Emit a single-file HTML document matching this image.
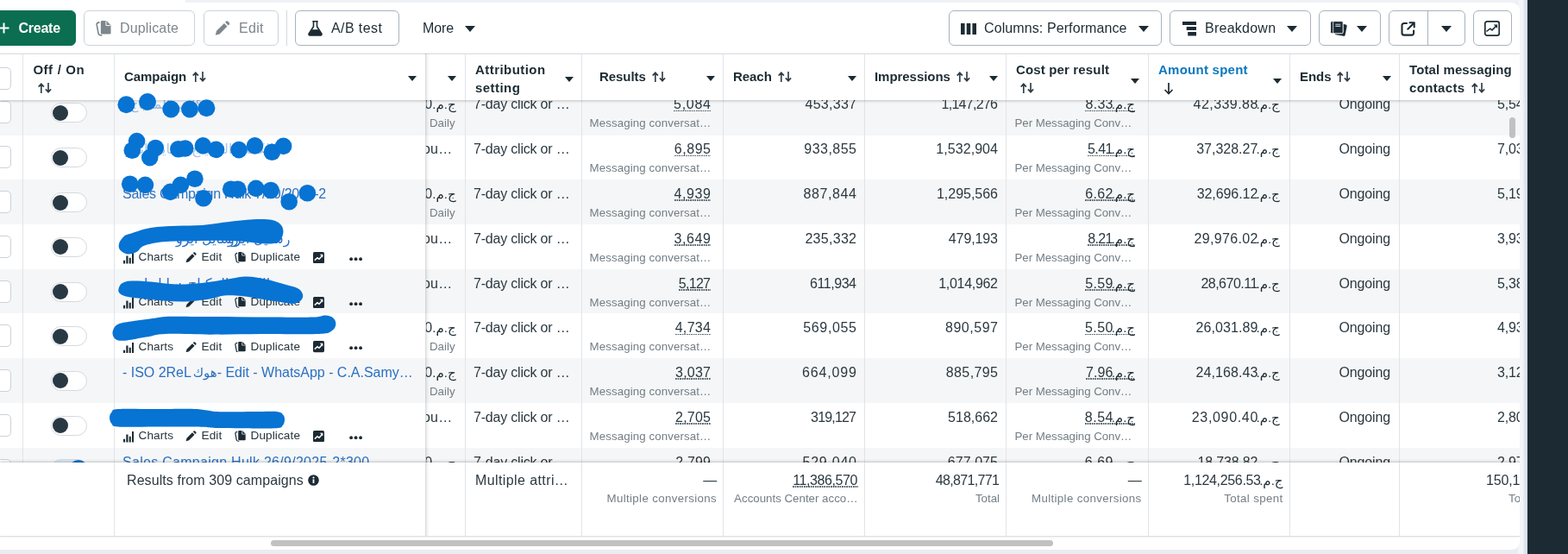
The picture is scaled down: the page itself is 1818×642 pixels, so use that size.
<!DOCTYPE html>
<html><head><meta charset="utf-8"><title>Ads Manager</title>
<style>
*{box-sizing:border-box}
html,body{margin:0;padding:0}
body{width:1818px;height:642px;overflow:hidden;position:relative;background:#e9edf2;font-family:"Liberation Sans",sans-serif;color:#1c2b33;font-size:16px}
.abs{position:absolute}
#dark{left:1771px;top:0;width:47px;height:642px;background:#1c2b33}
#band{left:1760px;top:0;width:11px;height:642px;background:linear-gradient(90deg,#f3f5f8 0,#f3f5f8 6.200px,#e9eef4 6.200px,#d0dbe6 11px)}
#panel{left:0;top:3px;width:1762px;height:634px;background:#fff;border-radius:0 9px 9px 0;overflow:hidden;will-change:transform}
#topstrip{left:215px;top:0;width:1547px;height:3px;background:#eef1f5}
.btn{position:absolute;top:9px;height:41px;border:1px solid #cbd2d9;border-radius:6px;background:#fff;white-space:nowrap}
.btn span{position:absolute;top:11px;font-size:16px;letter-spacing:-0.1px}
.btn svg{position:absolute}
.dis{color:#7d868c}
.on{border-color:#a9b3bb}
#create{left:-6px;width:94px;background:#0b6e51;border-color:#0b6e51;color:#fff}
#hdr{left:0;top:59px;width:1762px;height:53.5px;border-top:1px solid #d9dde1;background:#fff;z-index:5;box-shadow:0 1px 3px rgba(0,0,0,.22)}
.h{position:absolute;font-weight:700;font-size:15px;white-space:nowrap;letter-spacing:-0.05px}
.vl{position:absolute;width:1px;background:#e1e4e8}
.car{position:absolute;width:0;height:0;border-left:5.5px solid transparent;border-right:5.5px solid transparent;border-top:6px solid #1c2b33}
#rows{left:0;top:112.5px;width:1762px;height:420px;overflow:hidden}
.row{position:absolute;left:0;width:1762px;height:51.9px}
.g{background:#f5f6f7}
.t{position:absolute;white-space:nowrap;font-size:16px;letter-spacing:-0.15px;line-height:18px;color:#2b3840}
.r{text-align:right}
.s{position:absolute;white-space:nowrap;font-size:13.3px;color:#737e86;line-height:16px}
.dot{background:linear-gradient(90deg,#56636b 55%,rgba(0,0,0,0) 55%) 0 15.400px/2.600px 1.500px repeat-x}
.egp{display:inline-block;margin-left:1.500px;direction:rtl;unicode-bidi:isolate;font-size:15px;letter-spacing:0;white-space:nowrap;text-align:center;color:#1c2b33;font-family:"Liberation Sans","DejaVu Sans",sans-serif}
.tg{position:absolute;left:59px;width:42px;height:23px;border-radius:12px;background:#fff;border:1px solid #d4d9de}
.tg i{position:absolute;left:1px;top:1.5px;width:18px;height:18px;border-radius:50%;background:#283943}
.cb{position:absolute;left:-8px;width:21px;height:26px;border:1px solid #ccd2d8;border-radius:5px;background:#fff}
.lnk{color:#2a70c2}
.ar{direction:rtl;unicode-bidi:isolate;letter-spacing:0;font-family:"Liberation Sans","DejaVu Sans",sans-serif}
.act{position:absolute;left:142px;font-size:13.600px;letter-spacing:0.100px;white-space:nowrap;height:16px;color:#26343c}
.act span{position:absolute;top:-1px;line-height:16px}
.act svg{position:absolute}
#frozen{left:493px;top:59px;width:5px;height:560px;z-index:6;background:linear-gradient(90deg,rgba(0,0,0,.16),rgba(0,0,0,.05) 40%,rgba(0,0,0,0))}
#foot{left:0;top:532.5px;width:1762px;height:86px;background:#fff;z-index:4;box-shadow:0 -1px 3px rgba(0,0,0,.22)}
#footline{left:0;top:618px;width:1762px;height:1px;background:#dcdfe3;z-index:7}
#hs{left:314px;top:622.5px;width:907px;height:7px;border-radius:4px;background:#c1c1c1}
#vs{left:1749.500px;top:133px;width:7px;height:24px;border-radius:4px;background:#c1c1c1;z-index:8}
</style></head><body>
<div class="abs" style="left:0;top:0;width:215px;height:3px;background:#fff"></div>
<div class="abs" id="topstrip"></div>
<div class="abs" id="band"></div>
<div class="abs" id="dark"></div>
<div class="abs" id="panel">

<div class="btn" id="create"><svg style="left:3px;top:13px" width="13" height="13" viewBox="0 0 13 13"><path d="M6.500 0.500v12M0.500 6.500h12" stroke="#fff" stroke-width="2"/></svg><span style="left:26.500px;top:10.500px;font-weight:700;font-size:16px;letter-spacing:-0.250px">Create</span></div>
<div class="btn dis" style="left:97px;width:129px"><svg style="left:13px;top:11px" width="18.5" height="17.6" viewBox="0 0 19 18"><path fill="#7d868c" d="M7.500 0h5.200l5.300 5.300V14.500a1.500 1.500 0 0 1-1.500 1.500h-9a1.500 1.500 0 0 1-1.500-1.500V1.500A1.500 1.500 0 0 1 7.500 0z"/><path fill="none" stroke="#fff" stroke-width="1" d="M12.300 0.200V5.700H17.800"/><path fill="none" stroke="#7d868c" stroke-width="1.700" stroke-linecap="round" d="M4 1.900C2.200 2.400 1 2.900 1.200 4.500L3.200 15.300C3.500 16.900 4.500 17.200 6.800 17.300"/></svg><span style="left:41px;letter-spacing:0.150px">Duplicate</span></div>
<div class="btn dis" style="left:236px;width:87px"><svg style="left:12px;top:11px" width="17.5" height="17.5" viewBox="0 0 18 18"><path fill="#7d868c" d="M0.800 17.200l1.300-5L11.200 3.100l3.700 3.700-9.100 9.100zM12.400 1.900l1.100-1.100a1.500 1.500 0 0 1 2.100 0l1.600 1.600a1.500 1.500 0 0 1 0 2.100l-1.100 1.100z"/></svg><span style="left:40px;letter-spacing:0.300px">Edit</span></div>
<div class="abs" style="left:332px;top:9px;width:1px;height:41px;background:#d5dade"></div>
<div class="btn on" style="left:342px;width:121px"><svg style="left:14px;top:11px" width="17" height="18" viewBox="0 0 17 18"><path fill="none" stroke="#1c2b33" stroke-width="1.600" stroke-linejoin="round" d="M5.300 0.800h6.400M6.500 0.800v6L1.200 15a1.300 1.300 0 0 0 1.100 2h12.400a1.300 1.300 0 0 0 1.100-2L10.500 6.800v-6"/><path fill="#1c2b33" d="M4.800 10.200h7.400l3.500 5.300a1 1 0 0 1-.9 1.500H2.200a1 1 0 0 1-.9-1.500z"/></svg><span style="left:41px;letter-spacing:0.400px">A/B test</span></div>
<div class="abs" style="left:490px;top:21px;font-size:16px;letter-spacing:-0.100px">More</div><div class="car" style="left:539px;top:27px;border-left-width:6px;border-right-width:6px;border-top-width:7px"></div>
<div class="btn on" style="left:1100px;width:247px"><svg style="left:13px;top:14px" width="18" height="13" viewBox="0 0 18 13"><path fill="#1c2b33" d="M0 0h4.600v13H0zM6.700 0h4.600v13H6.700zM13.400 0H18v13h-4.600z"/></svg><span style="left:40px;letter-spacing:0.100px">Columns: Performance</span><div class="car" style="left:218.500px;top:17px;border-left-width:6px;border-right-width:6px;border-top-width:7px"></div></div>
<div class="btn on" style="left:1356px;width:164px"><svg style="left:14px;top:12px" width="16" height="16.500" viewBox="0 0 16 16.500"><path fill="#1c2b33" d="M0 0h16v4H0zM4.700 6h11.300v4H4.700zM6.200 12h9.800v4.500H6.200z"/></svg><span style="left:40px;letter-spacing:0.250px">Breakdown</span><div class="car" style="left:134.500px;top:17px;border-left-width:6px;border-right-width:6px;border-top-width:7px"></div></div>
<div class="btn on" style="left:1529px;width:72px"><svg style="left:11.500px;top:11px" width="20" height="18" viewBox="0 0 20 18"><g transform="rotate(11 12 10)"><rect x="6.500" y="3.400" width="12.300" height="13.600" rx="1.600" fill="#1c2b33"/></g><rect x="0.600" y="0.600" width="14.600" height="14.200" rx="1.600" fill="#1c2b33" stroke="#fff" stroke-width="1"/><path stroke="#fff" stroke-width="0.800" d="M3.700 1v13.400"/><path stroke="#c9ced2" stroke-width="1.100" d="M6.300 4.200h6M6.300 6.400h6"/></svg><div class="car" style="left:42.500px;top:17px;border-left-width:6px;border-right-width:6px;border-top-width:7px"></div></div>
<div class="btn on" style="left:1610px;width:88.500px"><div class="abs" style="left:43.500px;top:0;width:1px;height:39px;background:#a9b3bb"></div><svg style="left:12.500px;top:12.200px" width="17" height="17" viewBox="0 0 17 17"><path fill="none" stroke="#1c2b33" stroke-width="2.100" stroke-linejoin="round" stroke-linecap="round" d="M7 2H3.800A2.300 2.300 0 0 0 1.500 4.300v9A2.300 2.300 0 0 0 3.800 15.600h9a2.300 2.300 0 0 0 2.300-2.300V10.500M10.500 1.300h5.200v5.200M15.300 1.700L8.300 8.700"/></svg><div class="car" style="left:59.500px;top:17px;border-left-width:6px;border-right-width:6px;border-top-width:7px"></div></div>
<div class="btn on" style="left:1708px;width:45px"><svg style="left:10.500px;top:9.700px" width="20" height="20" viewBox="0 0 20 20"><rect x="1.800" y="1.800" width="16.400" height="16.400" rx="2.400" fill="none" stroke="#1c2b33" stroke-width="1.700"/><path fill="none" stroke="#1c2b33" stroke-width="1.500" d="M3.500 13.500l4.200-3.300 2.300 1.700 4.300-4.300"/><path fill="#1c2b33" d="M11.800 5.600h4.300v4.300z"/></svg></div>
<div class="abs" id="hdr">
<div class="cb" style="top:14.5px"></div>
<div class="h" style="left:38.5px;top:9px;letter-spacing:0.450px;word-spacing:0.500px">Off / On</div>
<div class="h" style="left:44px;top:30px;"><svg width="16" height="12" viewBox="0 0 16 12" style="vertical-align:-1px;margin-left:0"><path fill="none" stroke="#2f3d45" stroke-width="1.650" d="M3.800 12V1.400M0.700 4.600l3.100-3.300L6.900 4.600M12 0v10.600M8.900 7.400l3.100 3.300L15.100 7.400"/></svg></div>
<div class="h" style="left:144px;top:17px;">Campaign<svg width="16" height="12" viewBox="0 0 16 12" style="vertical-align:-1px;margin-left:7px"><path fill="none" stroke="#2f3d45" stroke-width="1.650" d="M3.800 12V1.400M0.700 4.600l3.100-3.300L6.900 4.600M12 0v10.600M8.900 7.400l3.100 3.300L15.100 7.400"/></svg></div>
<div class="h" style="left:551px;top:9px;letter-spacing:0.450px">Attribution</div>
<div class="h" style="left:551px;top:30px;letter-spacing:0.450px">setting</div>
<div class="h" style="left:695px;top:17px;">Results<svg width="16" height="12" viewBox="0 0 16 12" style="vertical-align:-1px;margin-left:7px"><path fill="none" stroke="#2f3d45" stroke-width="1.650" d="M3.800 12V1.400M0.700 4.600l3.100-3.300L6.900 4.600M12 0v10.600M8.900 7.400l3.100 3.300L15.100 7.400"/></svg></div>
<div class="h" style="left:850px;top:17px;">Reach<svg width="16" height="12" viewBox="0 0 16 12" style="vertical-align:-1px;margin-left:7px"><path fill="none" stroke="#2f3d45" stroke-width="1.650" d="M3.800 12V1.400M0.700 4.600l3.100-3.300L6.900 4.600M12 0v10.600M8.900 7.400l3.100 3.300L15.100 7.400"/></svg></div>
<div class="h" style="left:1014px;top:17px;">Impressions<svg width="16" height="12" viewBox="0 0 16 12" style="vertical-align:-1px;margin-left:7px"><path fill="none" stroke="#2f3d45" stroke-width="1.650" d="M3.800 12V1.400M0.700 4.600l3.100-3.300L6.900 4.600M12 0v10.600M8.900 7.400l3.100 3.300L15.100 7.400"/></svg></div>
<div class="h" style="left:1178px;top:9px;letter-spacing:0.150px">Cost per result</div>
<div class="h" style="left:1183px;top:30px;"><svg width="16" height="12" viewBox="0 0 16 12" style="vertical-align:-1px;margin-left:0"><path fill="none" stroke="#2f3d45" stroke-width="1.650" d="M3.800 12V1.400M0.700 4.600l3.100-3.300L6.900 4.600M12 0v10.600M8.900 7.400l3.100 3.300L15.100 7.400"/></svg></div>
<div class="h" style="left:1343px;top:9px;color:#0a78be;letter-spacing:0.250px">Amount spent</div>
<svg class="abs" style="left:1349px;top:33px" width="12" height="14" viewBox="0 0 12 14"><path fill="none" stroke="#1c2b33" stroke-width="1.700" d="M6 0v12M1.500 8l4.500 4.500L10.500 8"/></svg>
<div class="h" style="left:1507px;top:17px;">Ends<svg width="16" height="12" viewBox="0 0 16 12" style="vertical-align:-1px;margin-left:7px"><path fill="none" stroke="#2f3d45" stroke-width="1.650" d="M3.800 12V1.400M0.700 4.600l3.100-3.300L6.900 4.600M12 0v10.600M8.900 7.400l3.100 3.300L15.100 7.400"/></svg></div>
<div class="h" style="left:1634px;top:9px;letter-spacing:0.100px">Total messaging</div>
<div class="h" style="left:1634px;top:30px;"><span style="letter-spacing:0.350px">contacts</span><svg width="16" height="12" viewBox="0 0 16 12" style="vertical-align:-1px;margin-left:7px"><path fill="none" stroke="#2f3d45" stroke-width="1.650" d="M3.800 12V1.400M0.700 4.600l3.100-3.300L6.900 4.600M12 0v10.600M8.900 7.400l3.100 3.300L15.100 7.400"/></svg></div>
<div class="car" style="left:472.5px;top:25px"></div>
<div class="car" style="left:518.5px;top:25px"></div>
<div class="car" style="left:654.5px;top:26px"></div>
<div class="car" style="left:818.5px;top:25px"></div>
<div class="car" style="left:982.5px;top:25px"></div>
<div class="car" style="left:1146.5px;top:25px"></div>
<div class="car" style="left:1310.5px;top:28px"></div>
<div class="car" style="left:1475.5px;top:28px"></div>
<div class="car" style="left:1602.5px;top:25px"></div>
<div class="vl" style="left:26.0px;top:0;height:53px"></div>
<div class="vl" style="left:132.0px;top:0;height:53px"></div>
<div class="vl" style="left:538.5px;top:0;height:53px"></div>
<div class="vl" style="left:674.0px;top:0;height:53px"></div>
<div class="vl" style="left:838.0px;top:0;height:53px"></div>
<div class="vl" style="left:1002.0px;top:0;height:53px"></div>
<div class="vl" style="left:1166.0px;top:0;height:53px"></div>
<div class="vl" style="left:1330.5px;top:0;height:53px"></div>
<div class="vl" style="left:1494.5px;top:0;height:53px"></div>
<div class="vl" style="left:1622.0px;top:0;height:53px"></div>
</div>
<div class="abs" id="rows">
<div class="row g" style="top:-11.2px;height:52.2px">
<div class="vl" style="left:26.0px;top:0;height:52px"></div>
<div class="vl" style="left:132.0px;top:0;height:52px"></div>
<div class="vl" style="left:538.5px;top:0;height:52px"></div>
<div class="vl" style="left:674.0px;top:0;height:52px"></div>
<div class="vl" style="left:838.0px;top:0;height:52px"></div>
<div class="vl" style="left:1002.0px;top:0;height:52px"></div>
<div class="vl" style="left:1166.0px;top:0;height:52px"></div>
<div class="vl" style="left:1330.5px;top:0;height:52px"></div>
<div class="vl" style="left:1494.5px;top:0;height:52px"></div>
<div class="vl" style="left:1622.0px;top:0;height:52px"></div>
<div class="cb" style="top:13px"></div>
<div class="tg" style="top:15px"><i></i></div>
<div style="opacity:.45"><div class="t lnk ar" style="left:150px;top:8px">الكاتب المكياج</div></div>
<div class="abs" style="left:493.500px;top:0;width:45px;height:52px;overflow:hidden"><div class="t" style="left:-1.200px;top:8px">0<span style="margin-left:0.600px"><span class="egp" style="width:25.5px">ج.م.</span></span></div><div class="s" style="left:4.500px;top:31px">Daily</div></div>
<div class="t" style="left:549px;top:8px;letter-spacing:-0.2px">7-day click or …</div>
<div class="t r" style="right:938px;top:8px"><span class="dot"><span style="letter-spacing:0.71px;margin-right:-0.71px">5,084</span></span></div><div class="s" style="left:683.5px;top:31px;letter-spacing:0.1px">Messaging conversat…</div>
<div class="t r" style="right:769px;top:8px"><span style="letter-spacing:0.28px;margin-right:-0.28px">453,337</span></div>
<div class="t r" style="right:605px;top:8px"><span style="letter-spacing:-0.71px;margin-right:0.71px">1,147,276</span></div>
<div class="t r" style="right:446px;top:8px"><span class="dot"><span style="letter-spacing:0.29px;margin-right:-0.29px">8.33</span><span class="egp" style="width:24px">ج.م.</span></span></div><div class="s" style="left:1176.5px;top:31px;letter-spacing:-0.05px">Per Messaging Conv…</div>
<div class="t r" style="right:278.20000000000005px;top:8px"><span style="letter-spacing:0.44px;margin-right:-0.44px">42,339.88</span><span class="egp" style="width:24px">ج.م.</span></div>
<div class="t r" style="right:150px;top:8px">Ongoing</div>
<div class="t" style="left:1736px;top:8px">5,54</div>
</div>
<div class="row" style="top:40.7px;height:52.1px">
<div class="vl" style="left:26.0px;top:0;height:52px"></div>
<div class="vl" style="left:132.0px;top:0;height:52px"></div>
<div class="vl" style="left:538.5px;top:0;height:52px"></div>
<div class="vl" style="left:674.0px;top:0;height:52px"></div>
<div class="vl" style="left:838.0px;top:0;height:52px"></div>
<div class="vl" style="left:1002.0px;top:0;height:52px"></div>
<div class="vl" style="left:1166.0px;top:0;height:52px"></div>
<div class="vl" style="left:1330.5px;top:0;height:52px"></div>
<div class="vl" style="left:1494.5px;top:0;height:52px"></div>
<div class="vl" style="left:1622.0px;top:0;height:52px"></div>
<div class="cb" style="top:13px"></div>
<div class="tg" style="top:15px"><i></i></div>
<div style="opacity:.4"><div class="t lnk ar" style="left:146px;top:8px">رسايل ايرو</div><div class="t lnk ar" style="left:222px;top:8px">الكاتب المكياج</div></div>
<div class="abs" style="left:493.500px;top:0;width:45px;height:52px;overflow:hidden"><div class="t" style="left:-3.500px;top:8px;letter-spacing:0.200px">ou…</div></div>
<div class="t" style="left:549px;top:8px;letter-spacing:-0.2px">7-day click or …</div>
<div class="t r" style="right:938px;top:8px"><span class="dot"><span style="letter-spacing:0.55px;margin-right:-0.55px">6,895</span></span></div><div class="s" style="left:683.5px;top:31px;letter-spacing:0.1px">Messaging conversat…</div>
<div class="t r" style="right:769px;top:8px"><span style="letter-spacing:0.48px;margin-right:-0.48px">933,855</span></div>
<div class="t r" style="right:605px;top:8px"><span style="letter-spacing:0.06px;margin-right:-0.06px">1,532,904</span></div>
<div class="t r" style="right:446px;top:8px"><span class="dot"><span style="letter-spacing:-0.51px;margin-right:0.51px">5.41</span><span class="egp" style="width:24px">ج.م.</span></span></div><div class="s" style="left:1176.5px;top:31px;letter-spacing:-0.05px">Per Messaging Conv…</div>
<div class="t r" style="right:278.20000000000005px;top:8px"><span style="letter-spacing:-0.01px;margin-right:0.01px">37,328.27</span><span class="egp" style="width:24px">ج.م.</span></div>
<div class="t r" style="right:150px;top:8px">Ongoing</div>
<div class="t" style="left:1736px;top:8px">7,03</div>
</div>
<div class="row g" style="top:92.5px;height:52.2px">
<div class="vl" style="left:26.0px;top:0;height:52px"></div>
<div class="vl" style="left:132.0px;top:0;height:52px"></div>
<div class="vl" style="left:538.5px;top:0;height:52px"></div>
<div class="vl" style="left:674.0px;top:0;height:52px"></div>
<div class="vl" style="left:838.0px;top:0;height:52px"></div>
<div class="vl" style="left:1002.0px;top:0;height:52px"></div>
<div class="vl" style="left:1166.0px;top:0;height:52px"></div>
<div class="vl" style="left:1330.5px;top:0;height:52px"></div>
<div class="vl" style="left:1494.5px;top:0;height:52px"></div>
<div class="vl" style="left:1622.0px;top:0;height:52px"></div>
<div class="cb" style="top:13px"></div>
<div class="tg" style="top:15px"><i></i></div>
<div class="t lnk" style="left:142px;top:8px;letter-spacing:-0.25px">Sales Campaign Hulk 7/10/2025-2</div>
<div class="abs" style="left:493.500px;top:0;width:45px;height:52px;overflow:hidden"><div class="t" style="left:-1.200px;top:8px">0<span style="margin-left:0.600px"><span class="egp" style="width:25.5px">ج.م.</span></span></div><div class="s" style="left:4.500px;top:31px">Daily</div></div>
<div class="t" style="left:549px;top:8px;letter-spacing:-0.2px">7-day click or …</div>
<div class="t r" style="right:938px;top:8px"><span class="dot"><span style="letter-spacing:0.59px;margin-right:-0.59px">4,939</span></span></div><div class="s" style="left:683.5px;top:31px;letter-spacing:0.1px">Messaging conversat…</div>
<div class="t r" style="right:769px;top:8px"><span style="letter-spacing:0.59px;margin-right:-0.59px">887,844</span></div>
<div class="t r" style="right:605px;top:8px"><span style="letter-spacing:-0.02px;margin-right:0.02px">1,295,566</span></div>
<div class="t r" style="right:446px;top:8px"><span class="dot"><span style="letter-spacing:0.39px;margin-right:-0.39px">6.62</span><span class="egp" style="width:24px">ج.م.</span></span></div><div class="s" style="left:1176.5px;top:31px;letter-spacing:-0.05px">Per Messaging Conv…</div>
<div class="t r" style="right:278.20000000000005px;top:8px"><span style="letter-spacing:-0.06px;margin-right:0.06px">32,696.12</span><span class="egp" style="width:24px">ج.م.</span></div>
<div class="t r" style="right:150px;top:8px">Ongoing</div>
<div class="t" style="left:1736px;top:8px">5,19</div>
</div>
<div class="row" style="top:144.4px;height:52.2px">
<div class="vl" style="left:26.0px;top:0;height:52px"></div>
<div class="vl" style="left:132.0px;top:0;height:52px"></div>
<div class="vl" style="left:538.5px;top:0;height:52px"></div>
<div class="vl" style="left:674.0px;top:0;height:52px"></div>
<div class="vl" style="left:838.0px;top:0;height:52px"></div>
<div class="vl" style="left:1002.0px;top:0;height:52px"></div>
<div class="vl" style="left:1166.0px;top:0;height:52px"></div>
<div class="vl" style="left:1330.5px;top:0;height:52px"></div>
<div class="vl" style="left:1494.5px;top:0;height:52px"></div>
<div class="vl" style="left:1622.0px;top:0;height:52px"></div>
<div class="cb" style="top:13px"></div>
<div class="tg" style="top:15px"><i></i></div>
<div class="t lnk ar" style="left:204px;top:8px">رسايل ايرو</div><div class="t lnk ar" style="left:264px;top:8px">رسايل ايرو</div>
<div class="act" style="top:31.600px"><svg style="left:0.900px;top:0.800px" width="12.200" height="13.500" viewBox="0 0 12.200 13.500"><path fill="#1c2b33" d="M0 9.800h2.100v3.700H0zM3.300 4.500h2.200v9H3.300zM6.700 6.800h2.100v6.700H6.700zM10 0.900h2.200v12.600H10z"/></svg><span style="left:18.500px">Charts</span><svg style="left:73px;top:0.800px" width="12.8" height="12.8" viewBox="0 0 18 18"><path fill="#1c2b33" d="M0.800 17.200l1.300-5L11.200 3.100l3.700 3.700-9.100 9.100zM12.400 1.900l1.100-1.100a1.500 1.500 0 0 1 2.100 0l1.600 1.600a1.500 1.500 0 0 1 0 2.100l-1.100 1.100z"/></svg><span style="left:91.500px">Edit</span><svg style="left:130px;top:0.800px" width="13.4" height="12.8" viewBox="0 0 19 18"><path fill="#1c2b33" d="M7.500 0h5.200l5.300 5.300V14.500a1.500 1.500 0 0 1-1.500 1.500h-9a1.500 1.500 0 0 1-1.500-1.500V1.500A1.500 1.500 0 0 1 7.500 0z"/><path fill="none" stroke="#fff" stroke-width="1" d="M12.300 0.200V5.700H17.800"/><path fill="none" stroke="#1c2b33" stroke-width="1.700" stroke-linecap="round" d="M4 1.900C2.200 2.400 1 2.900 1.200 4.500L3.200 15.300C3.500 16.900 4.500 17.200 6.800 17.300"/></svg><span style="left:148.500px">Duplicate</span><svg style="left:221px;top:0.600px" width="13" height="13.200" viewBox="0 0 13 13.200"><rect width="13" height="13.200" rx="1.600" fill="#1c2b33"/><path fill="none" stroke="#fff" stroke-width="1.500" d="M1.800 9.600l3.200-2.800 2 1.500L10.500 4.500"/><path fill="#fff" d="M7.800 2.800h3.600v3.600z"/></svg><svg style="left:262.500px;top:6.200px" width="15.200" height="4.400" viewBox="0 0 15.200 4.400"><circle cx="2.100" cy="2.200" r="1.900" fill="#1c2b33"/><circle cx="7.600" cy="2.200" r="1.900" fill="#1c2b33"/><circle cx="13.100" cy="2.200" r="1.900" fill="#1c2b33"/></svg></div>
<div class="abs" style="left:493.500px;top:0;width:45px;height:52px;overflow:hidden"><div class="t" style="left:-3.500px;top:8px;letter-spacing:0.200px">ou…</div></div>
<div class="t" style="left:549px;top:8px;letter-spacing:-0.2px">7-day click or …</div>
<div class="t r" style="right:938px;top:8px"><span class="dot"><span style="letter-spacing:0.59px;margin-right:-0.59px">3,649</span></span></div><div class="s" style="left:683.5px;top:31px;letter-spacing:0.1px">Messaging conversat…</div>
<div class="t r" style="right:769px;top:8px"><span style="letter-spacing:0.29px;margin-right:-0.29px">235,332</span></div>
<div class="t r" style="right:605px;top:8px"><span style="letter-spacing:-0.11px;margin-right:0.11px">479,193</span></div>
<div class="t r" style="right:446px;top:8px"><span class="dot"><span style="letter-spacing:-0.64px;margin-right:0.64px">8.21</span><span class="egp" style="width:24px">ج.م.</span></span></div><div class="s" style="left:1176.5px;top:31px;letter-spacing:-0.05px">Per Messaging Conv…</div>
<div class="t r" style="right:278.20000000000005px;top:8px"><span style="letter-spacing:0.33px;margin-right:-0.33px">29,976.02</span><span class="egp" style="width:24px">ج.م.</span></div>
<div class="t r" style="right:150px;top:8px">Ongoing</div>
<div class="t" style="left:1736px;top:8px">3,93</div>
</div>
<div class="row g" style="top:196.3px;height:51.7px">
<div class="vl" style="left:26.0px;top:0;height:52px"></div>
<div class="vl" style="left:132.0px;top:0;height:52px"></div>
<div class="vl" style="left:538.5px;top:0;height:52px"></div>
<div class="vl" style="left:674.0px;top:0;height:52px"></div>
<div class="vl" style="left:838.0px;top:0;height:52px"></div>
<div class="vl" style="left:1002.0px;top:0;height:52px"></div>
<div class="vl" style="left:1166.0px;top:0;height:52px"></div>
<div class="vl" style="left:1330.5px;top:0;height:52px"></div>
<div class="vl" style="left:1494.5px;top:0;height:52px"></div>
<div class="vl" style="left:1622.0px;top:0;height:52px"></div>
<div class="cb" style="top:13px"></div>
<div class="tg" style="top:15px"><i></i></div>
<div class="t lnk ar" style="left:146px;top:8px">رسايل ايرو</div><div class="t lnk ar" style="left:218px;top:8px">الكاتب المكياج</div>
<div class="act" style="top:31.600px"><svg style="left:0.900px;top:0.800px" width="12.200" height="13.500" viewBox="0 0 12.200 13.500"><path fill="#1c2b33" d="M0 9.800h2.100v3.700H0zM3.300 4.500h2.200v9H3.300zM6.700 6.800h2.100v6.700H6.700zM10 0.900h2.200v12.600H10z"/></svg><span style="left:18.500px">Charts</span><svg style="left:73px;top:0.800px" width="12.8" height="12.8" viewBox="0 0 18 18"><path fill="#1c2b33" d="M0.800 17.200l1.300-5L11.200 3.100l3.700 3.700-9.100 9.100zM12.400 1.900l1.100-1.100a1.500 1.500 0 0 1 2.100 0l1.600 1.600a1.500 1.500 0 0 1 0 2.100l-1.100 1.100z"/></svg><span style="left:91.500px">Edit</span><svg style="left:130px;top:0.800px" width="13.4" height="12.8" viewBox="0 0 19 18"><path fill="#1c2b33" d="M7.500 0h5.200l5.300 5.300V14.500a1.500 1.500 0 0 1-1.500 1.500h-9a1.500 1.500 0 0 1-1.500-1.500V1.500A1.500 1.500 0 0 1 7.500 0z"/><path fill="none" stroke="#fff" stroke-width="1" d="M12.300 0.200V5.700H17.800"/><path fill="none" stroke="#1c2b33" stroke-width="1.700" stroke-linecap="round" d="M4 1.900C2.200 2.400 1 2.900 1.200 4.500L3.200 15.300C3.500 16.900 4.500 17.200 6.800 17.300"/></svg><span style="left:148.500px">Duplicate</span><svg style="left:221px;top:0.600px" width="13" height="13.200" viewBox="0 0 13 13.200"><rect width="13" height="13.200" rx="1.600" fill="#1c2b33"/><path fill="none" stroke="#fff" stroke-width="1.500" d="M1.800 9.600l3.200-2.800 2 1.500L10.500 4.500"/><path fill="#fff" d="M7.800 2.800h3.600v3.600z"/></svg><svg style="left:262.500px;top:6.200px" width="15.200" height="4.400" viewBox="0 0 15.200 4.400"><circle cx="2.100" cy="2.200" r="1.900" fill="#1c2b33"/><circle cx="7.600" cy="2.200" r="1.900" fill="#1c2b33"/><circle cx="13.100" cy="2.200" r="1.900" fill="#1c2b33"/></svg></div>
<div class="abs" style="left:493.500px;top:0;width:45px;height:52px;overflow:hidden"><div class="t" style="left:-3.500px;top:8px;letter-spacing:0.200px">ou…</div></div>
<div class="t" style="left:549px;top:8px;letter-spacing:-0.2px">7-day click or …</div>
<div class="t r" style="right:938px;top:8px"><span class="dot"><span style="letter-spacing:-0.71px;margin-right:0.71px">5,127</span></span></div><div class="s" style="left:683.5px;top:31px;letter-spacing:0.1px">Messaging conversat…</div>
<div class="t r" style="right:769px;top:8px"><span style="letter-spacing:-0.46px;margin-right:0.46px">611,934</span></div>
<div class="t r" style="right:605px;top:8px"><span style="letter-spacing:-0.30px;margin-right:0.30px">1,014,962</span></div>
<div class="t r" style="right:446px;top:8px"><span class="dot"><span style="letter-spacing:0.34px;margin-right:-0.34px">5.59</span><span class="egp" style="width:24px">ج.م.</span></span></div><div class="s" style="left:1176.5px;top:31px;letter-spacing:-0.05px">Per Messaging Conv…</div>
<div class="t r" style="right:278.20000000000005px;top:8px"><span style="letter-spacing:-0.51px;margin-right:0.51px">28,670.11</span><span class="egp" style="width:24px">ج.م.</span></div>
<div class="t r" style="right:150px;top:8px">Ongoing</div>
<div class="t" style="left:1736px;top:8px">5,38</div>
</div>
<div class="row" style="top:247.7px;height:52.0px">
<div class="vl" style="left:26.0px;top:0;height:52px"></div>
<div class="vl" style="left:132.0px;top:0;height:52px"></div>
<div class="vl" style="left:538.5px;top:0;height:52px"></div>
<div class="vl" style="left:674.0px;top:0;height:52px"></div>
<div class="vl" style="left:838.0px;top:0;height:52px"></div>
<div class="vl" style="left:1002.0px;top:0;height:52px"></div>
<div class="vl" style="left:1166.0px;top:0;height:52px"></div>
<div class="vl" style="left:1330.5px;top:0;height:52px"></div>
<div class="vl" style="left:1494.5px;top:0;height:52px"></div>
<div class="vl" style="left:1622.0px;top:0;height:52px"></div>
<div class="cb" style="top:13px"></div>
<div class="tg" style="top:15px"><i></i></div>
<div class="act" style="top:31.600px"><svg style="left:0.900px;top:0.800px" width="12.200" height="13.500" viewBox="0 0 12.200 13.500"><path fill="#1c2b33" d="M0 9.800h2.100v3.700H0zM3.300 4.500h2.200v9H3.300zM6.700 6.800h2.100v6.700H6.700zM10 0.900h2.200v12.600H10z"/></svg><span style="left:18.500px">Charts</span><svg style="left:73px;top:0.800px" width="12.8" height="12.8" viewBox="0 0 18 18"><path fill="#1c2b33" d="M0.800 17.200l1.300-5L11.200 3.100l3.700 3.700-9.100 9.100zM12.400 1.900l1.100-1.100a1.500 1.500 0 0 1 2.100 0l1.600 1.600a1.500 1.500 0 0 1 0 2.100l-1.100 1.100z"/></svg><span style="left:91.500px">Edit</span><svg style="left:130px;top:0.800px" width="13.4" height="12.8" viewBox="0 0 19 18"><path fill="#1c2b33" d="M7.500 0h5.200l5.300 5.300V14.500a1.500 1.500 0 0 1-1.500 1.500h-9a1.500 1.500 0 0 1-1.500-1.500V1.500A1.500 1.500 0 0 1 7.500 0z"/><path fill="none" stroke="#fff" stroke-width="1" d="M12.300 0.200V5.700H17.800"/><path fill="none" stroke="#1c2b33" stroke-width="1.700" stroke-linecap="round" d="M4 1.900C2.200 2.400 1 2.900 1.200 4.500L3.200 15.300C3.500 16.900 4.500 17.200 6.800 17.300"/></svg><span style="left:148.500px">Duplicate</span><svg style="left:221px;top:0.600px" width="13" height="13.200" viewBox="0 0 13 13.200"><rect width="13" height="13.200" rx="1.600" fill="#1c2b33"/><path fill="none" stroke="#fff" stroke-width="1.500" d="M1.800 9.600l3.200-2.800 2 1.500L10.500 4.500"/><path fill="#fff" d="M7.800 2.800h3.600v3.600z"/></svg><svg style="left:262.500px;top:6.200px" width="15.200" height="4.400" viewBox="0 0 15.200 4.400"><circle cx="2.100" cy="2.200" r="1.900" fill="#1c2b33"/><circle cx="7.600" cy="2.200" r="1.900" fill="#1c2b33"/><circle cx="13.100" cy="2.200" r="1.900" fill="#1c2b33"/></svg></div>
<div class="abs" style="left:493.500px;top:0;width:45px;height:52px;overflow:hidden"><div class="t" style="left:-1.200px;top:8px">0<span style="margin-left:0.600px"><span class="egp" style="width:25.5px">ج.م.</span></span></div><div class="s" style="left:4.500px;top:31px">Daily</div></div>
<div class="t" style="left:549px;top:8px;letter-spacing:-0.2px">7-day click or …</div>
<div class="t r" style="right:938px;top:8px"><span class="dot"><span style="letter-spacing:0.33px;margin-right:-0.33px">4,734</span></span></div><div class="s" style="left:683.5px;top:31px;letter-spacing:0.1px">Messaging conversat…</div>
<div class="t r" style="right:769px;top:8px"><span style="letter-spacing:0.64px;margin-right:-0.64px">569,055</span></div>
<div class="t r" style="right:605px;top:8px"><span style="letter-spacing:0.52px;margin-right:-0.52px">890,597</span></div>
<div class="t r" style="right:446px;top:8px"><span class="dot"><span style="letter-spacing:0.46px;margin-right:-0.46px">5.50</span><span class="egp" style="width:24px">ج.م.</span></span></div><div class="s" style="left:1176.5px;top:31px;letter-spacing:-0.05px">Per Messaging Conv…</div>
<div class="t r" style="right:278.20000000000005px;top:8px"><span style="letter-spacing:0.07px;margin-right:-0.07px">26,031.89</span><span class="egp" style="width:24px">ج.م.</span></div>
<div class="t r" style="right:150px;top:8px">Ongoing</div>
<div class="t" style="left:1736px;top:8px">4,93</div>
</div>
<div class="row g" style="top:299.4px;height:52.3px">
<div class="vl" style="left:26.0px;top:0;height:52px"></div>
<div class="vl" style="left:132.0px;top:0;height:52px"></div>
<div class="vl" style="left:538.5px;top:0;height:52px"></div>
<div class="vl" style="left:674.0px;top:0;height:52px"></div>
<div class="vl" style="left:838.0px;top:0;height:52px"></div>
<div class="vl" style="left:1002.0px;top:0;height:52px"></div>
<div class="vl" style="left:1166.0px;top:0;height:52px"></div>
<div class="vl" style="left:1330.5px;top:0;height:52px"></div>
<div class="vl" style="left:1494.5px;top:0;height:52px"></div>
<div class="vl" style="left:1622.0px;top:0;height:52px"></div>
<div class="cb" style="top:13px"></div>
<div class="tg" style="top:15px"><i></i></div>
<div class="t lnk" style="left:142px;top:8px;letter-spacing:-0.020px">- ISO 2ReL <span class="ar" style="display:inline-block;width:26px;text-align:center;font-size:15px">هوك</span>- Edit - WhatsApp - C.A.Samy…</div>
<div class="abs" style="left:493.500px;top:0;width:45px;height:52px;overflow:hidden"><div class="t" style="left:-1.200px;top:8px">0<span style="margin-left:0.600px"><span class="egp" style="width:25.5px">ج.م.</span></span></div><div class="s" style="left:4.500px;top:31px">Daily</div></div>
<div class="t" style="left:549px;top:8px;letter-spacing:-0.2px">7-day click or …</div>
<div class="t r" style="right:938px;top:8px"><span class="dot"><span style="letter-spacing:0.21px;margin-right:-0.21px">3,037</span></span></div><div class="s" style="left:683.5px;top:31px;letter-spacing:0.1px">Messaging conversat…</div>
<div class="t r" style="right:769px;top:8px"><span style="letter-spacing:0.85px;margin-right:-0.85px">664,099</span></div>
<div class="t r" style="right:605px;top:8px"><span style="letter-spacing:0.39px;margin-right:-0.39px">885,795</span></div>
<div class="t r" style="right:446px;top:8px"><span class="dot"><span style="letter-spacing:0.14px;margin-right:-0.14px">7.96</span><span class="egp" style="width:24px">ج.م.</span></span></div><div class="s" style="left:1176.5px;top:31px;letter-spacing:-0.05px">Per Messaging Conv…</div>
<div class="t r" style="right:278.20000000000005px;top:8px"><span style="letter-spacing:0.08px;margin-right:-0.08px">24,168.43</span><span class="egp" style="width:24px">ج.م.</span></div>
<div class="t r" style="right:150px;top:8px">Ongoing</div>
<div class="t" style="left:1736px;top:8px">3,12</div>
</div>
<div class="row" style="top:351.4px;height:52.4px">
<div class="vl" style="left:26.0px;top:0;height:52px"></div>
<div class="vl" style="left:132.0px;top:0;height:52px"></div>
<div class="vl" style="left:538.5px;top:0;height:52px"></div>
<div class="vl" style="left:674.0px;top:0;height:52px"></div>
<div class="vl" style="left:838.0px;top:0;height:52px"></div>
<div class="vl" style="left:1002.0px;top:0;height:52px"></div>
<div class="vl" style="left:1166.0px;top:0;height:52px"></div>
<div class="vl" style="left:1330.5px;top:0;height:52px"></div>
<div class="vl" style="left:1494.5px;top:0;height:52px"></div>
<div class="vl" style="left:1622.0px;top:0;height:52px"></div>
<div class="cb" style="top:13px"></div>
<div class="tg" style="top:15px"><i></i></div>
<div class="act" style="top:31.600px"><svg style="left:0.900px;top:0.800px" width="12.200" height="13.500" viewBox="0 0 12.200 13.500"><path fill="#1c2b33" d="M0 9.800h2.100v3.700H0zM3.300 4.500h2.200v9H3.300zM6.700 6.800h2.100v6.700H6.700zM10 0.900h2.200v12.600H10z"/></svg><span style="left:18.500px">Charts</span><svg style="left:73px;top:0.800px" width="12.8" height="12.8" viewBox="0 0 18 18"><path fill="#1c2b33" d="M0.800 17.200l1.300-5L11.200 3.100l3.700 3.700-9.100 9.100zM12.400 1.900l1.100-1.100a1.500 1.500 0 0 1 2.100 0l1.600 1.600a1.500 1.500 0 0 1 0 2.100l-1.100 1.100z"/></svg><span style="left:91.500px">Edit</span><svg style="left:130px;top:0.800px" width="13.4" height="12.8" viewBox="0 0 19 18"><path fill="#1c2b33" d="M7.500 0h5.200l5.300 5.300V14.500a1.500 1.500 0 0 1-1.500 1.500h-9a1.500 1.500 0 0 1-1.500-1.500V1.500A1.500 1.500 0 0 1 7.500 0z"/><path fill="none" stroke="#fff" stroke-width="1" d="M12.300 0.200V5.700H17.800"/><path fill="none" stroke="#1c2b33" stroke-width="1.700" stroke-linecap="round" d="M4 1.900C2.200 2.400 1 2.900 1.200 4.500L3.200 15.300C3.500 16.900 4.500 17.200 6.800 17.300"/></svg><span style="left:148.500px">Duplicate</span><svg style="left:221px;top:0.600px" width="13" height="13.200" viewBox="0 0 13 13.200"><rect width="13" height="13.200" rx="1.600" fill="#1c2b33"/><path fill="none" stroke="#fff" stroke-width="1.500" d="M1.800 9.600l3.200-2.800 2 1.500L10.500 4.500"/><path fill="#fff" d="M7.800 2.800h3.600v3.600z"/></svg><svg style="left:262.500px;top:6.200px" width="15.200" height="4.400" viewBox="0 0 15.200 4.400"><circle cx="2.100" cy="2.200" r="1.900" fill="#1c2b33"/><circle cx="7.600" cy="2.200" r="1.900" fill="#1c2b33"/><circle cx="13.100" cy="2.200" r="1.900" fill="#1c2b33"/></svg></div>
<div class="abs" style="left:493.500px;top:0;width:45px;height:52px;overflow:hidden"><div class="t" style="left:-3.500px;top:8px;letter-spacing:0.200px">ou…</div></div>
<div class="t" style="left:549px;top:8px;letter-spacing:-0.2px">7-day click or …</div>
<div class="t r" style="right:938px;top:8px"><span class="dot"><span style="letter-spacing:0.21px;margin-right:-0.21px">2,705</span></span></div><div class="s" style="left:683.5px;top:31px;letter-spacing:0.1px">Messaging conversat…</div>
<div class="t r" style="right:769px;top:8px"><span style="letter-spacing:-0.82px;margin-right:0.82px">319,127</span></div>
<div class="t r" style="right:605px;top:8px"><span style="letter-spacing:0.01px;margin-right:-0.01px">518,662</span></div>
<div class="t r" style="right:446px;top:8px"><span class="dot"><span style="letter-spacing:0.51px;margin-right:-0.51px">8.54</span><span class="egp" style="width:24px">ج.م.</span></span></div><div class="s" style="left:1176.5px;top:31px;letter-spacing:-0.05px">Per Messaging Conv…</div>
<div class="t r" style="right:278.20000000000005px;top:8px"><span style="letter-spacing:0.67px;margin-right:-0.67px">23,090.40</span><span class="egp" style="width:24px">ج.م.</span></div>
<div class="t r" style="right:150px;top:8px">Ongoing</div>
<div class="t" style="left:1736px;top:8px">2,80</div>
</div>
<div class="row g" style="top:403.5px;height:52.3px">
<div class="vl" style="left:26.0px;top:0;height:52px"></div>
<div class="vl" style="left:132.0px;top:0;height:52px"></div>
<div class="vl" style="left:538.5px;top:0;height:52px"></div>
<div class="vl" style="left:674.0px;top:0;height:52px"></div>
<div class="vl" style="left:838.0px;top:0;height:52px"></div>
<div class="vl" style="left:1002.0px;top:0;height:52px"></div>
<div class="vl" style="left:1166.0px;top:0;height:52px"></div>
<div class="vl" style="left:1330.5px;top:0;height:52px"></div>
<div class="vl" style="left:1494.5px;top:0;height:52px"></div>
<div class="vl" style="left:1622.0px;top:0;height:52px"></div>
<div class="cb" style="top:13px"></div>
<div class="tg" style="top:13.200px;background:#dde7f3;border-color:#cfdcec"><i style="left:19.500px;top:-0.500px;width:22px;height:22px;background:#1a73c9"></i></div>
<div class="t lnk" style="left:142px;top:8px;letter-spacing:0.280px">Sales Campaign Hulk 26/9/2025-2*300</div>
<div class="abs" style="left:493.500px;top:0;width:45px;height:52px;overflow:hidden"><div class="t" style="left:-1.200px;top:8px">0<span style="margin-left:0.600px"><span class="egp" style="width:25.5px">ج.م.</span></span></div><div class="s" style="left:4.500px;top:31px">Daily</div></div>
<div class="t" style="left:549px;top:8px;letter-spacing:-0.2px">7-day click or …</div>
<div class="t r" style="right:938px;top:8px"><span class="dot"><span style="letter-spacing:0.19px;margin-right:-0.19px">2,799</span></span></div><div class="s" style="left:683.5px;top:31px;letter-spacing:0.1px">Messaging conversat…</div>
<div class="t r" style="right:769px;top:8px"><span style="letter-spacing:0.78px;margin-right:-0.78px">529,040</span></div>
<div class="t r" style="right:605px;top:8px"><span style="letter-spacing:0.06px;margin-right:-0.06px">677,075</span></div>
<div class="t r" style="right:446px;top:8px"><span class="dot"><span style="letter-spacing:0.54px;margin-right:-0.54px">6.69</span><span class="egp" style="width:24px">ج.م.</span></span></div><div class="s" style="left:1176.5px;top:31px;letter-spacing:-0.05px">Per Messaging Conv…</div>
<div class="t r" style="right:278.20000000000005px;top:8px"><span style="letter-spacing:-0.17px;margin-right:0.17px">18,738.82</span><span class="egp" style="width:24px">ج.م.</span></div>
<div class="t r" style="right:150px;top:8px">Ongoing</div>
<div class="t" style="left:1736px;top:8px">2,97</div>
</div>
</div>
<div class="abs" id="foot">
<div class="vl" style="left:132.0px;top:0;height:86px"></div>
<div class="vl" style="left:538.5px;top:0;height:86px"></div>
<div class="vl" style="left:674.0px;top:0;height:86px"></div>
<div class="vl" style="left:838.0px;top:0;height:86px"></div>
<div class="vl" style="left:1002.0px;top:0;height:86px"></div>
<div class="vl" style="left:1166.0px;top:0;height:86px"></div>
<div class="vl" style="left:1330.5px;top:0;height:86px"></div>
<div class="vl" style="left:1494.5px;top:0;height:86px"></div>
<div class="vl" style="left:1622.0px;top:0;height:86px"></div>
<div class="t" style="left:147px;top:12.200px;letter-spacing:0.080px">Results from 309 campaigns <svg width="13" height="13" viewBox="0 0 13 13" style="vertical-align:-1px;margin-left:1px"><circle cx="6.500" cy="6.500" r="6.300" fill="#1c2b33"/><rect x="5.600" y="5.400" width="1.800" height="4.600" fill="#fff"/><circle cx="6.500" cy="3.500" r="1.100" fill="#fff"/></svg></div>
<div class="t" style="left:551px;top:12.200px;letter-spacing:0.400px">Multiple attri…</div>
<div class="t r" style="right:931px;top:12.200px">—</div><div class="s r" style="right:931px;top:34.300px;letter-spacing:0.350px">Multiple conversions</div>
<div class="t r" style="right:767.5px;top:12.200px;"><span class="dot"><span style="letter-spacing:-0.39px;margin-right:0.39px">11,386,570</span></span></div><div class="s r" style="right:767.5px;top:34.300px">Accounts Center acco…</div>
<div class="t r" style="right:603px;top:12.200px;"><span style="letter-spacing:-0.64px;margin-right:0.64px">48,871,771</span></div><div class="s r" style="right:603px;top:34.300px">Total</div>
<div class="t r" style="right:438.5px;top:12.200px">—</div><div class="s r" style="right:438.5px;top:34.300px;letter-spacing:0.350px">Multiple conversions</div>
<div class="t r" style="right:274.5px;top:12.200px"><span style="letter-spacing:-0.33px;margin-right:0.33px">1,124,256.53</span><span class="egp" style="width:24px">ج.م.</span></div><div class="s r" style="right:274.5px;top:34.300px;letter-spacing:0.350px">Total spent</div>
<div class="t" style="left:1723px;top:12.200px">150,19</div><div class="s" style="left:1749px;top:34.300px">To</div>
</div>
<div class="abs" id="footline"></div>
<div class="abs" id="frozen"></div>
<div class="abs" id="vs"></div>
<div class="abs" id="hs"></div>
<svg class="abs" id="scr" style="left:0;top:-3px;z-index:9" width="1762" height="642" viewBox="0 0 1762 642">
<circle cx="146.4" cy="121.2" r="10" fill="#0773d3"/><circle cx="171" cy="118" r="10" fill="#0773d3"/><circle cx="198.3" cy="126.5" r="10" fill="#0773d3"/><circle cx="220" cy="126.5" r="10" fill="#0773d3"/><circle cx="239.4" cy="125.2" r="10" fill="#0773d3"/>
<circle cx="158.6" cy="163.6" r="9.8" fill="#0773d3"/><circle cx="153.3" cy="174.2" r="9.8" fill="#0773d3"/><circle cx="180.3" cy="171.5" r="9.8" fill="#0773d3"/><circle cx="173.7" cy="182.6" r="9.8" fill="#0773d3"/><circle cx="206.8" cy="172.8" r="9.8" fill="#0773d3"/><circle cx="214.7" cy="172" r="9.8" fill="#0773d3"/><circle cx="235.4" cy="168.9" r="9.8" fill="#0773d3"/><circle cx="250.5" cy="173.4" r="9.8" fill="#0773d3"/><circle cx="277" cy="173.6" r="9.8" fill="#0773d3"/><circle cx="295.5" cy="168.9" r="9.8" fill="#0773d3"/><circle cx="315.4" cy="176.3" r="9.8" fill="#0773d3"/><circle cx="328.6" cy="169.4" r="9.8" fill="#0773d3"/>
<circle cx="150.7" cy="213.3" r="9.8" fill="#0773d3"/><circle cx="168.4" cy="214.4" r="9.8" fill="#0773d3"/><circle cx="197.5" cy="222.4" r="9.8" fill="#0773d3"/><circle cx="209.4" cy="214.4" r="9.8" fill="#0773d3"/><circle cx="225.9" cy="207.3" r="9.8" fill="#0773d3"/><circle cx="235.9" cy="229.8" r="9.8" fill="#0773d3"/><circle cx="267.7" cy="219.2" r="9.8" fill="#0773d3"/><circle cx="275.7" cy="219.2" r="9.8" fill="#0773d3"/><circle cx="296.8" cy="218.4" r="9.8" fill="#0773d3"/><circle cx="314" cy="220.5" r="9.8" fill="#0773d3"/><circle cx="335.2" cy="233.7" r="9.8" fill="#0773d3"/><circle cx="356.4" cy="223.7" r="9.8" fill="#0773d3"/>
<path d="M149.3,271.3C154.5,269.6 165.4,265.5 174.6,263.9C183.8,262.3 194.4,262.2 204.3,261.7C214.2,261.2 224.1,261.6 234.0,260.9C243.9,260.1 253.8,258.3 263.7,257.2C273.6,256.1 284.7,254.7 293.4,254.3C302.1,253.9 310.3,253.9 315.7,255.0C321.1,256.1 323.9,258.4 326.0,260.9C328.1,263.4 328.8,266.7 328.3,269.9C327.8,273.1 326.5,278.1 323.1,280.2C319.8,282.3 315.6,282.6 308.2,282.5C300.8,282.4 288.4,280.1 278.5,279.5C268.6,278.9 258.7,278.8 248.8,278.8C238.9,278.8 229.0,279.3 219.1,279.5C209.2,279.7 198.1,279.3 189.4,280.2C180.7,281.1 172.3,282.7 167.1,284.7C161.9,286.7 161.4,290.5 158.2,292.1C155.0,293.7 151.0,294.9 147.8,294.4C144.6,293.9 140.5,291.3 138.9,289.2C137.3,287.1 137.4,284.2 138.2,281.7C138.9,279.2 141.6,276.0 143.4,274.3C145.2,272.6 144.1,273.0 149.3,271.3Z" fill="#0773d3"/>
<path d="M138.0,333.0C138.7,331.2 139.7,329.2 142.0,328.0C144.3,326.8 146.5,325.8 152.0,325.5C157.5,325.2 166.3,325.8 175.0,326.5C183.7,327.2 194.2,329.2 204.0,329.5C213.8,329.8 224.0,329.0 234.0,328.0C244.0,327.0 255.3,324.8 264.0,323.5C272.7,322.2 278.7,320.5 286.0,320.5C293.3,320.5 300.7,322.0 308.0,323.5C315.3,325.0 323.8,327.8 330.0,329.5C336.2,331.2 341.5,332.1 345.0,334.0C348.5,335.9 350.3,338.7 351.0,341.0C351.7,343.3 350.8,346.2 349.0,348.0C347.2,349.8 344.0,351.7 340.0,352.0C336.0,352.3 330.8,350.8 325.0,350.0C319.2,349.2 312.5,348.2 305.0,347.0C297.5,345.8 287.5,343.8 280.0,343.0C272.5,342.2 266.7,341.8 260.0,342.5C253.3,343.2 247.5,345.8 240.0,347.0C232.5,348.2 223.3,349.2 215.0,349.5C206.7,349.8 198.3,349.1 190.0,348.5C181.7,347.9 172.3,346.8 165.0,346.0C157.7,345.2 150.5,344.7 146.0,343.5C141.5,342.3 139.3,340.8 138.0,339.0C136.7,337.2 137.3,334.8 138.0,333.0Z" fill="#0773d3"/>
<path d="M130.9,383.2C131.8,380.7 132.9,377.6 136.9,375.8C140.9,374.0 148.0,373.2 154.7,372.1C161.4,371.0 170.8,370.0 177.0,369.1C183.2,368.2 183.1,367.3 191.8,366.9C200.5,366.5 215.4,366.8 229.0,366.9C242.6,366.9 258.6,367.1 273.5,367.2C288.4,367.3 303.2,367.5 318.1,367.6C333.0,367.7 352.7,368.0 362.6,367.6C372.5,367.2 373.5,365.3 377.5,365.4C381.5,365.5 384.4,366.7 386.4,368.4C388.4,370.1 389.6,373.3 389.4,375.8C389.1,378.3 388.1,381.4 384.9,383.2C381.7,385.0 383.6,386.3 370.0,386.9C356.4,387.5 324.2,386.8 303.2,386.9C282.2,387.0 262.4,387.7 243.8,387.7C225.2,387.7 204.2,386.4 191.8,386.9C179.4,387.4 177.0,389.4 169.6,390.6C162.2,391.9 152.8,393.8 147.3,394.4C141.9,395.0 139.5,395.0 136.9,394.4C134.3,393.8 132.7,392.5 131.7,390.6C130.7,388.7 130.0,385.7 130.9,383.2Z" fill="#0773d3"/>
<path d="M127.0,484.0C127.0,481.8 127.8,479.2 129.5,477.5C131.2,475.8 128.6,474.6 137.0,474.0C145.4,473.4 165.8,474.0 180.0,474.0C194.2,474.0 212.0,473.6 222.0,473.8C232.0,474.1 234.5,474.9 240.0,475.5C245.5,476.1 245.0,476.9 255.0,477.2C265.0,477.4 288.8,477.0 300.0,477.0C311.2,477.0 317.2,476.5 322.0,477.2C326.8,477.9 327.2,479.4 328.5,481.0C329.8,482.6 330.2,484.9 330.0,487.0C329.8,489.1 329.2,491.9 327.5,493.5C325.8,495.1 327.9,495.8 320.0,496.3C312.1,496.8 291.7,496.4 280.0,496.3C268.3,496.2 257.2,496.2 250.0,496.0C242.8,495.8 241.7,495.1 237.0,494.8C232.3,494.6 231.5,494.6 222.0,494.5C212.5,494.4 194.2,494.5 180.0,494.5C165.8,494.5 145.4,495.1 137.0,494.5C128.6,493.9 131.2,492.8 129.5,491.0C127.8,489.2 127.0,486.2 127.0,484.0Z" fill="#0773d3"/>
</svg>
</div></body></html>
